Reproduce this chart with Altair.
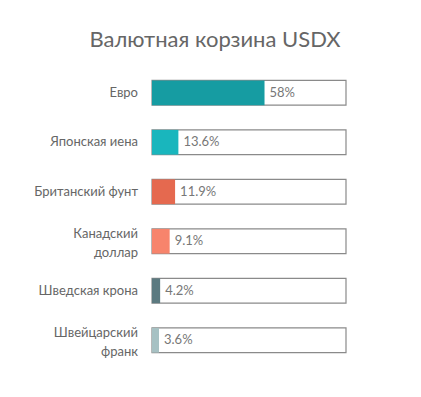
import altair as alt
import pandas as pd

categories = ["Евро", "Японская иена", "Британский фунт", "Канадский\nдоллар", "Шведская крона", "Швейцарский\nфранк"]
values = [58, 13.6, 11.9, 9.1, 4.2, 3.6]
labels = ["58%", "13.6%", "11.9%", "9.1%", "4.2%", "3.6%"]
colors = ["#169ca2", "#19b6bd", "#e5694f", "#f7846c", "#5c7a80", "#a7c1c3"]
total = [100, 100, 100, 100, 100, 100]

df = pd.DataFrame({"cat": categories, "value": values, "label": labels, "color": colors, "total": total})

FONT = "Lato"

y = alt.Y("cat:N", sort=categories, title=None,
          scale=alt.Scale(paddingInner=0.5, paddingOuter=0.25), axis=None)
x = alt.X("value:Q", scale=alt.Scale(domain=[0, 100]), axis=None)

box = alt.Chart(df).mark_bar(fill="white", stroke="#8a8a8a", strokeWidth=1.2).encode(
    x=alt.X("total:Q", scale=alt.Scale(domain=[0, 100]), axis=None), y=y)
bar = alt.Chart(df).mark_bar().encode(x=x, y=y, color=alt.Color("color:N", scale=None))
txt = alt.Chart(df).mark_text(align="left", dx=5, fontSize=13, font=FONT, color="#777777").encode(
    x=x, y=y, text="label:N")
cat_one = alt.Chart(df).transform_filter("indexof(datum.cat, '\\n') < 0").mark_text(
    align="right", baseline="middle", fontSize=13, font=FONT, color="#666666").encode(
    x=alt.value(-14), y=y, text="cat:N")
cat_two = alt.Chart(df).transform_filter("indexof(datum.cat, '\\n') >= 0").mark_text(
    align="right", baseline="middle", fontSize=13, font=FONT, color="#666666",
    lineBreak="\n", lineHeight=19, dy=-7.5).encode(
    x=alt.value(-14), y=y, text="cat:N")

chart = (box + bar + txt + cat_one + cat_two).properties(
    width=194, height=297,
    title=alt.TitleParams("Валютная корзина USDX", fontSize=22, font=FONT, fontWeight="normal",
                          color="#666666", anchor="middle", dx=-34, offset=16),
    autosize=alt.AutoSizeParams(type="none"),
    padding={"left": 144, "top": 60, "right": 67, "bottom": 24},
).configure_view(stroke=None)

chart.save("out.html", embed_options={"renderer": "svg", "actions": False})
